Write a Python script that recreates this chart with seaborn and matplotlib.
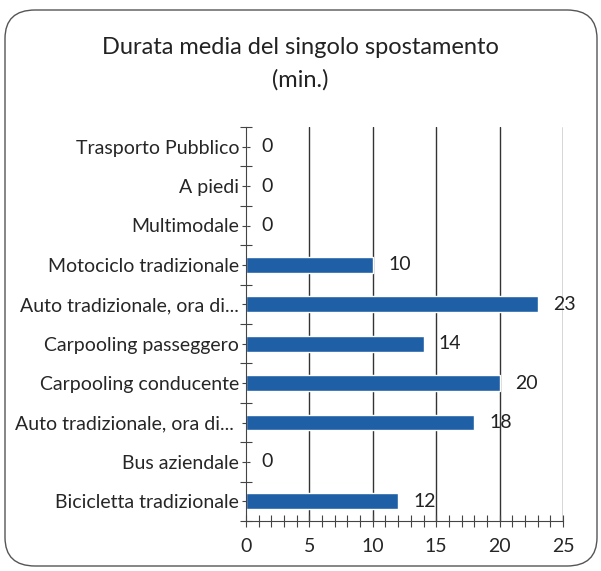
import pandas as pd
import seaborn as sns
import matplotlib.pyplot as plt
from matplotlib.patches import FancyBboxPatch
from matplotlib.ticker import MultipleLocator, FixedLocator

categorie = ['Trasporto Pubblico', 'A piedi', 'Multimodale', 'Motociclo tradizionale',
             'Auto tradizionale, ora di...', 'Carpooling passeggero', 'Carpooling conducente',
             'Auto tradizionale, ora di... ', 'Bus aziendale', 'Bicicletta tradizionale']
minuti = [0, 0, 0, 10, 23, 14, 20, 18, 0, 12]

df = pd.DataFrame({'categoria': categorie, 'minuti': minuti})

sns.set_style('white')
plt.rcParams['font.family'] = ['Lato', 'DejaVu Sans']

fig = plt.figure(figsize=(6.01, 5.71), dpi=100)
ax = fig.add_axes([246 / 601, 1 - 521 / 571, 317 / 601, 394 / 571])

sns.barplot(data=df, x='minuti', y='categoria', orient='h', color='#1f5fa6',
            saturation=1, width=0.4, ax=ax)

ax.set_xlim(0, 25)
ax.set_ylim(9.5, -0.5)
ax.set_xlabel('')
ax.set_ylabel('')

# griglia verticale
for x in range(5, 26, 5):
    ax.axvline(x, color='#333333', lw=1.0, zorder=0)

ax.xaxis.set_major_locator(MultipleLocator(5))
ax.xaxis.set_minor_locator(MultipleLocator(1))
ax.tick_params(axis='x', which='both', bottom=True, direction='inout', length=9,
               width=0.8, color='#444444', labelsize=14, pad=8)
ax.tick_params(axis='y', which='major', left=True, direction='inout', length=6,
               width=0.8, color='#444444', labelsize=14, pad=2)
ax.yaxis.set_minor_locator(FixedLocator([i + 0.5 for i in range(-1, 10)]))
ax.tick_params(axis='y', which='minor', left=True, direction='inout', length=9,
               width=0.8, color='#444444')

for s in ['top', 'right']:
    ax.spines[s].set_visible(False)
for s in ['left', 'bottom']:
    ax.spines[s].set_color('#444444')
    ax.spines[s].set_linewidth(0.8)

# etichette dei valori
for i, v in enumerate(minuti):
    ax.text(v + 1.2, i, str(v), va='center', ha='left', fontsize=14, color='#222222')

fig.text(0.5, 1 - 64 / 571, 'Durata media del singolo spostamento\n(min.)',
         ha='center', va='center', fontsize=17, color='#222222', linespacing=1.65)

cornice = FancyBboxPatch((5 / 601, 5 / 571), 592 / 601, 556 / 571,
                         boxstyle='round,pad=0,rounding_size=0.05',
                         transform=fig.transFigure, fill=False,
                         edgecolor='#555555', lw=1.0)
fig.patches.append(cornice)

fig.savefig('out.png', dpi=100)
